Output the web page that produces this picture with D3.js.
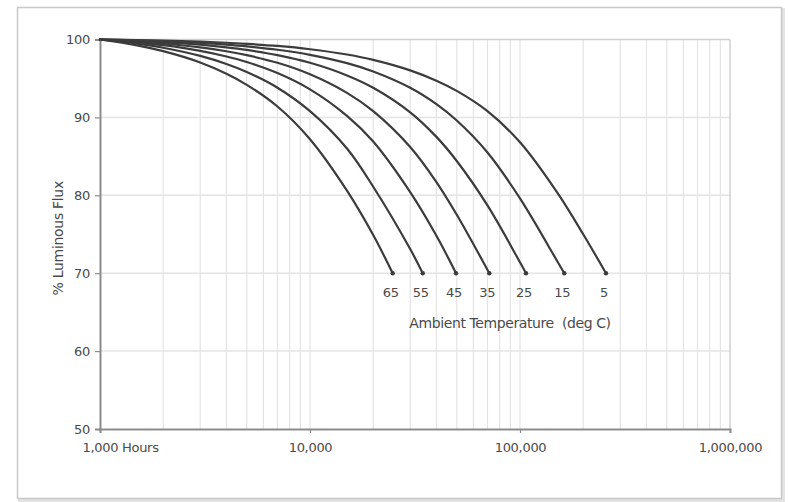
<!DOCTYPE html>
<html>
<head>
<meta charset="utf-8">
<script src="https://cdn.jsdelivr.net/npm/d3@7"></script>
<style>
  html, body { margin: 0; padding: 0; background: #ffffff; }
  svg { display: block; }
  text { font-family: "DejaVu Sans", Verdana, sans-serif; fill: #4a4a4a; }
</style>
</head>
<body>
<svg id="chart" width="788" height="502"></svg>
<script>
// ---- data ----
const temperatures = ["65", "55", "45", "35", "25", "15", "5"];

const hours65 = [1000, 1500, 2000, 3000, 4000, 5000, 7000, 10000, 15000, 20000, 24760];
const flux65  = [100, 99.25, 98.5, 97.05, 95.6, 94.18, 91.4, 87.2, 80.6, 74.9, 70];

const hours55 = [1000, 1500, 2000, 3000, 4000, 5000, 7000, 10000, 15000, 20000, 30000, 34420];
const flux55  = [100, 99.47, 98.94, 97.89, 96.86, 95.83, 93.81, 90.8, 86.0, 81.1, 73.1, 70];

const hours45 = [1000, 1500, 2000, 3000, 4000, 5000, 7000, 10000, 15000, 20000, 30000, 40000, 49580];
const flux45  = [100, 99.63, 99.27, 98.54, 97.82, 97.11, 95.69, 93.6, 90.2, 86.9, 80.4, 74.8, 70];

const hours35 = [1000, 1500, 2000, 3000, 4000, 5000, 7000, 10000, 15000, 20000, 30000, 40000, 50000, 71420];
const flux35  = [100, 99.75, 99.49, 98.99, 98.49, 97.99, 97.01, 95.54, 93.15, 90.8, 86.2, 81.7, 77.5, 70];

const hours25 = [1000, 1500, 2000, 3000, 4000, 5000, 7000, 10000, 15000, 20000, 30000, 40000, 50000, 70000, 100000, 106800];
const flux25  = [100, 99.83, 99.66, 99.33, 98.99, 98.66, 98.0, 97.01, 95.39, 93.8, 90.65, 87.5, 84.4, 78.7, 71.4, 70];

const hours15 = [1000, 1500, 2000, 3000, 4000, 5000, 7000, 10000, 15000, 20000, 30000, 40000, 50000, 70000, 100000, 150000, 162550];
const flux15  = [100, 99.89, 99.78, 99.56, 99.34, 99.12, 98.68, 98.03, 96.96, 95.89, 93.8, 91.7, 89.6, 85.5, 79.6, 71.6, 70];

const hours5 = [1000, 1500, 2000, 3000, 4000, 5000, 7000, 10000, 15000, 20000, 30000, 40000, 50000, 70000, 100000, 150000, 200000, 256700];
const flux5  = [100, 99.93, 99.86, 99.72, 99.58, 99.44, 99.17, 98.75, 98.07, 97.39, 96.04, 94.71, 93.4, 90.8, 86.8, 80.4, 75.0, 70];

const yTicks = [50, 60, 70, 80, 90, 100];
const xTicks = [1000, 10000, 100000, 1000000];
const xTickLabels = ["1,000 Hours", "10,000", "100,000", "1,000,000"];
const xTitle = "Ambient Temperature  (deg C)";
const yTitle = "% Luminous Flux";

const seriesHours = [hours65, hours55, hours45, hours35, hours25, hours15, hours5];
const seriesFlux  = [flux65, flux55, flux45, flux35, flux25, flux15, flux5];

// ---- drawing ----
const svg = d3.select("#chart");
const W = 788, H = 502;
const plot = { left: 100, right: 730, top: 39.5, bottom: 429 };

const x = d3.scaleLog().domain([1000, 1000000]).range([plot.left, plot.right]);
const y = d3.scaleLinear().domain([50, 100]).range([plot.bottom, plot.top]);

// outer frame
svg.append("rect").attr("x", 0).attr("y", 0).attr("width", W).attr("height", H).attr("fill", "#ffffff");
svg.append("rect").attr("x", 19.5).attr("y", 9.5).attr("width", 764).attr("height", 491)
  .attr("fill", "none").attr("stroke", "#e3e3e3").attr("stroke-width", 3);
svg.append("rect").attr("x", 17.5).attr("y", 7.5).attr("width", 764).attr("height", 491)
  .attr("fill", "#ffffff").attr("stroke", "#c8c8c8").attr("stroke-width", 1.5);

// vertical minor/major gridlines
const gridX = [];
for (let dec = 1000; dec < 1000000; dec *= 10) {
  for (let m = 1; m <= 9; m++) {
    const v = dec * m;
    if (v > 1000) gridX.push(v);
  }
}
svg.append("g").selectAll("line").data(gridX).join("line")
  .attr("x1", d => x(d)).attr("x2", d => x(d))
  .attr("y1", plot.top).attr("y2", plot.bottom)
  .attr("stroke", "#e4e4e4").attr("stroke-width", 1.2);

// horizontal gridlines
svg.append("g").selectAll("line").data(yTicks.filter(v => v > 50 && v < 100)).join("line")
  .attr("x1", plot.left).attr("x2", plot.right)
  .attr("y1", d => y(d)).attr("y2", d => y(d))
  .attr("stroke", "#e4e4e4").attr("stroke-width", 1.5);

// plot border (top/right light)
svg.append("line").attr("x1", plot.left).attr("x2", plot.right).attr("y1", plot.top).attr("y2", plot.top)
  .attr("stroke", "#cfcfcf").attr("stroke-width", 1.5);
svg.append("line").attr("x1", plot.right).attr("x2", plot.right).attr("y1", plot.top).attr("y2", plot.bottom)
  .attr("stroke", "#cfcfcf").attr("stroke-width", 1.5);

// y axis
const yAxis = d3.axisLeft(y).tickValues(yTicks).tickSize(5).tickPadding(5).tickFormat(d3.format("d"));
const gy = svg.append("g").attr("transform", `translate(${plot.left},0)`).call(yAxis);
gy.select(".domain").attr("stroke", "#8c8c8c").attr("stroke-width", 2);
gy.selectAll(".tick line").attr("stroke", "#8c8c8c").attr("stroke-width", 1.2);
gy.selectAll(".tick text").attr("font-size", 13).attr("fill", "#4a4a4a")
  .attr("font-family", "DejaVu Sans, Verdana, sans-serif").attr("letter-spacing", -0.3);

// x axis
const xAxis = d3.axisBottom(x).tickValues(xTicks).tickSize(4).tickPadding(10)
  .tickFormat((d, i) => xTickLabels[i]);
const gx = svg.append("g").attr("transform", `translate(0,${plot.bottom})`).call(xAxis);
gx.select(".domain").attr("stroke", "#8c8c8c").attr("stroke-width", 2);
gx.selectAll(".tick line").attr("stroke", "#8c8c8c").attr("stroke-width", 1.2);
gx.selectAll(".tick text").attr("font-size", 13).attr("fill", "#4a4a4a")
  .attr("font-family", "DejaVu Sans, Verdana, sans-serif").attr("letter-spacing", -0.3);
// first label "1,000 Hours": number centred on the tick, word trailing
gx.selectAll(".tick text").filter((d, i) => i === 0)
  .attr("text-anchor", "start").attr("dx", -18);

// curves
const line = d3.line()
  .x(d => x(d[0])).y(d => y(d[1]))
  .curve(d3.curveCatmullRom.alpha(0.5));

seriesHours.forEach((hrs, i) => {
  const pts = hrs.map((h, j) => [h, seriesFlux[i][j]]);
  svg.append("path").datum(pts)
    .attr("d", line)
    .attr("fill", "none")
    .attr("stroke", "#3c3c3c")
    .attr("stroke-width", 2.2)
    .attr("stroke-linejoin", "round")
    .attr("stroke-linecap", "round");
  const last = pts[pts.length - 1];
  svg.append("circle").attr("cx", x(last[0])).attr("cy", y(last[1])).attr("r", 2.2).attr("fill", "#3c3c3c");
  svg.append("text")
    .attr("x", x(last[0]) - 2).attr("y", y(last[1]) + 24)
    .attr("text-anchor", "middle").attr("font-size", 13).attr("letter-spacing", -0.3)
    .text(temperatures[i]);
});

// annotation title
svg.append("text").attr("x", 510).attr("y", 328).attr("text-anchor", "middle")
  .style("white-space", "pre")
  .attr("font-size", 14).attr("letter-spacing", -0.4).text(xTitle);

// y title
svg.append("text")
  .attr("transform", `translate(63,${(plot.top + plot.bottom) / 2 + 4}) rotate(-90)`)
  .attr("text-anchor", "middle").attr("font-size", 14).attr("letter-spacing", -0.3)
  .text(yTitle);
</script>
</body>
</html>
